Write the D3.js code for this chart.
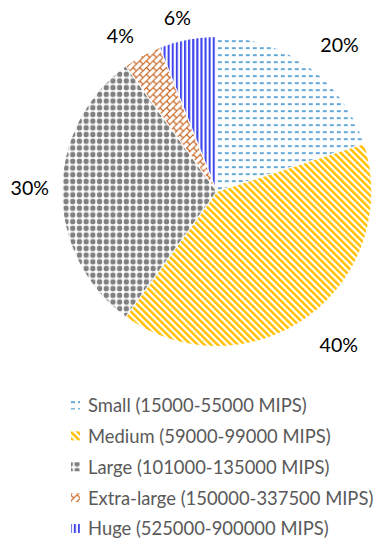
<!DOCTYPE html>
<html><head><meta charset="utf-8">
<script src="https://cdn.jsdelivr.net/npm/d3@7"></script>
<style>html,body{margin:0;padding:0;background:#fff;}svg{display:block;}</style>
</head><body>
<script>
const categories = ["Small (15000-55000 MIPS)", "Medium (59000-99000 MIPS)", "Large (101000-135000 MIPS)", "Extra-large (150000-337500 MIPS)", "Huge (525000-900000 MIPS)"];
const values = [20, 40, 30, 4, 6];
const labels = ["20%", "40%", "30%", "4%", "6%"];
const colors = ["#0070C0", "#FFC000", "#808080", "#C55A11", "#4046EE"];

// layout only: label distance from centre and angle tweak (degrees) per slice
const labelRadius = [191, 196, 187, 183, 178];
const labelAngleShift = [4, -2.5, 1, -3, -2];

const W = 376, H = 542;
const cx = 216.8, cy = 191.5, R = 155;
const svg = d3.select("body").append("svg").attr("width", W).attr("height", H);
const defs = svg.append("defs");

// Pattern: dashed horizontal (Small)
const p0 = defs.append("pattern").attr("id", "pat0").attr("patternUnits", "userSpaceOnUse")
  .attr("width", 7).attr("height", 7);
p0.append("rect").attr("width", 7).attr("height", 7).attr("fill", "#fff");
p0.append("rect").attr("x", 1).attr("y", 3).attr("width", 4).attr("height", 1.2).attr("fill", colors[0]);

// Pattern: wide downward diagonal (Medium)
const p1 = defs.append("pattern").attr("id", "pat1").attr("patternUnits", "userSpaceOnUse")
  .attr("width", 4.74).attr("height", 10).attr("patternTransform", "rotate(-45)");
p1.append("rect").attr("width", 4.74).attr("height", 10).attr("fill", "#fff");
p1.append("rect").attr("x", 0).attr("width", 2.5).attr("height", 10).attr("fill", colors[1]);

// Pattern: dotted diamond grid (Large)
const p2 = defs.append("pattern").attr("id", "pat2").attr("patternUnits", "userSpaceOnUse")
  .attr("width", 6.7).attr("height", 6.7);
p2.append("rect").attr("width", 6.7).attr("height", 6.7).attr("fill", "#fff");
p2.append("path").attr("d", "M2,0.7 H4.7 L5.9,2 V4.7 L4.7,6 H2 L0.8,4.7 V2 Z").attr("fill", colors[2]);

// Pattern: diagonal brick (Extra-large)
const p3 = defs.append("pattern").attr("id", "pat3").attr("patternUnits", "userSpaceOnUse")
  .attr("width", 6.7).attr("height", 6.7);
p3.append("rect").attr("width", 6.7).attr("height", 6.7).attr("fill", "#fff");
p3.append("path").attr("d", "M0,6.7 L6.7,0 M3.35,3.35 L6.7,6.7 M-1,1 L1,-1 M5.7,7.7 L7.7,5.7")
  .attr("stroke", colors[3]).attr("stroke-width", 1.1).attr("fill", "none");

// Pattern: wide vertical (Huge)
const p4 = defs.append("pattern").attr("id", "pat4").attr("patternUnits", "userSpaceOnUse")
  .attr("width", 4.1).attr("height", 4);
p4.append("rect").attr("width", 4.1).attr("height", 4).attr("fill", "#fff");
p4.append("rect").attr("x", 0).attr("width", 2.1).attr("height", 4).attr("fill", colors[4]);

const pie = d3.pie().sort(null).value(d => d)(values);
const arc = d3.arc().innerRadius(0).outerRadius(R);

const g = svg.append("g").attr("transform", `translate(${cx},${cy})`);
g.selectAll("path.slice").data(pie).join("path")
  .attr("class", "slice")
  .attr("d", arc)
  .attr("fill", (d, i) => `url(#pat${i})`)
  .attr("stroke", "#fff").attr("stroke-width", 1);

g.selectAll("text.lbl").data(pie).join("text")
  .attr("class", "lbl")
  .attr("transform", (d, i) => {
    const a = (d.startAngle + d.endAngle) / 2 + labelAngleShift[i] * Math.PI / 180;
    const r = labelRadius[i];
    return `translate(${r * Math.sin(a)},${-r * Math.cos(a)})`;
  })
  .attr("text-anchor", "middle").attr("dy", "0.36em")
  .attr("font-family", "Lato, 'Open Sans', sans-serif")
  .attr("font-size", 19.6).attr("fill", "#000")
  .text((d, i) => labels[i]);

// Legend
const legendY = d3.scalePoint().domain(categories).range([405.5, 529]);
const lg = svg.append("g");
const items = lg.selectAll("g.item").data(categories).join("g")
  .attr("class", "item")
  .attr("transform", d => `translate(0,${legendY(d)})`);
items.append("rect").attr("x", 71).attr("y", -5).attr("width", 9).attr("height", 9)
  .attr("fill", (d, i) => `url(#pat${i})`);
items.append("text").attr("x", 88).attr("dy", "0.35em")
  .attr("font-family", "Lato, 'Open Sans', sans-serif")
  .attr("font-size", 18.4).attr("fill", "#595959")
  .text(d => d);
</script>
</body></html>
